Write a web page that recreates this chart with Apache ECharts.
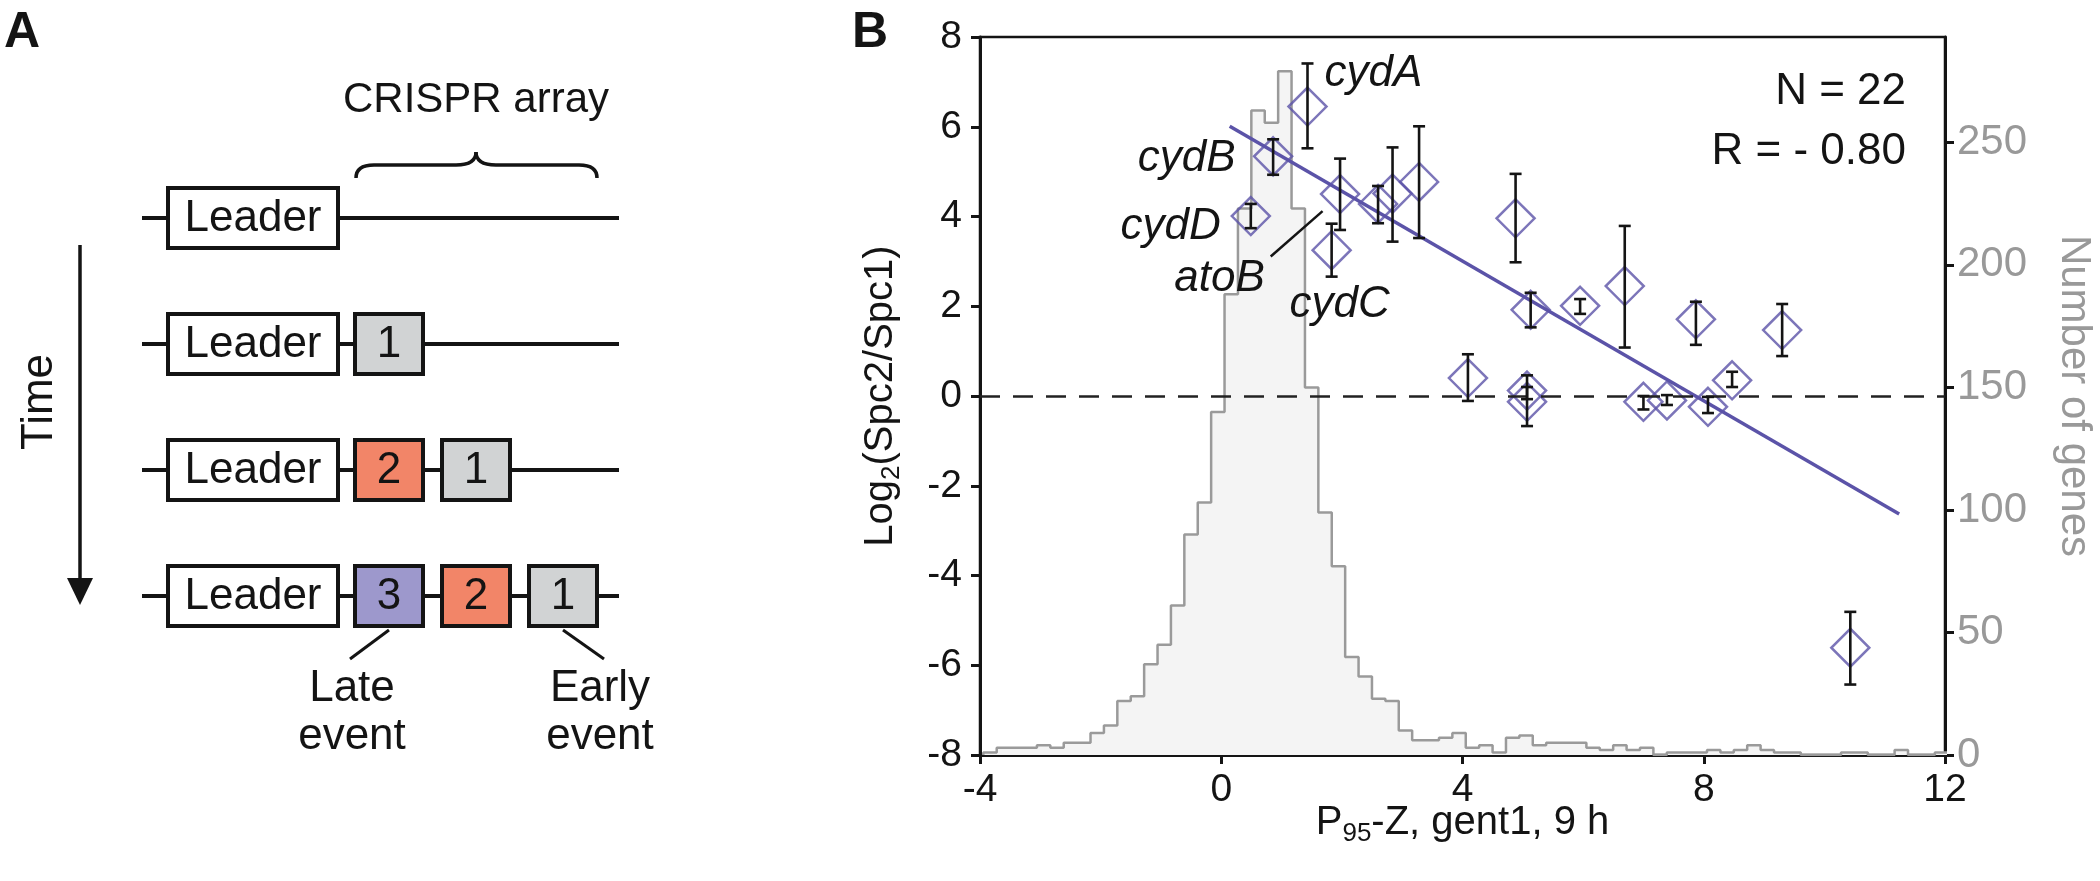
<!DOCTYPE html>
<html><head><meta charset="utf-8">
<script src="https://cdn.jsdelivr.net/npm/echarts@6/dist/echarts.min.js"></script>
<style>html,body{margin:0;padding:0;background:#fff}#c{width:2100px;height:881px}</style>
</head><body><div id="c"></div>
<script>
// ---------- Panel B data ----------
const pointX    = [1.43, 0.86, 0.49, 1.97, 1.83, 2.60, 2.84, 3.28, 4.88, 5.13, 5.95, 6.69, 7.87, 9.30, 4.09, 5.07, 5.07, 7.00, 7.39, 8.07, 8.47, 10.43];
const pointY    = [6.45, 5.34, 4.01, 4.50, 3.25, 4.28, 4.51, 4.77, 3.96, 1.92, 2.01, 2.45, 1.71, 1.47, 0.40, 0.12, -0.13, -0.13, -0.10, -0.24, 0.35, -5.61];
const errLow    = [5.52, 4.93, 3.74, 3.70, 2.66, 3.85, 3.44, 3.52, 2.98, 1.53, 1.83, 1.08, 1.14, 0.89, -0.11, -0.07, -0.67, -0.30, -0.20, -0.38, 0.20, -6.43];
const errHigh   = [7.41, 5.72, 4.28, 5.29, 3.84, 4.68, 5.54, 6.01, 4.95, 2.30, 2.16, 3.79, 2.10, 2.05, 0.93, 0.46, 0.20, 0.00, 0.02, -0.02, 0.54, -4.81];
const fitX = [0.14, 11.24];
const fitY = [6.01, -2.63];
const geneNames  = ['cydA', 'cydB', 'cydD', 'atoB', 'cydC'];
const geneLabelX = [1.72, 0.245, 0.0, 0.73, 1.14];
const geneLabelY = [7.16, 5.27, 3.77, 2.60, 2.03];
const geneAlign  = ['left', 'right', 'right', 'right', 'left'];
const atoBPointerX = [0.82, 1.68];
const atoBPointerY = [3.11, 4.12];
const histStart = -3.945;
const histBinWidth = 0.2222;
const histCounts = [1,3,3,3,4,3,5,5,9,12,22,24,37,45,61,90,103,140,188,223,263,258,279,223,150,99,77,40,32,23,22,10,6,6,7,9,3,4,1,7,8,4,5,5,5,3,2,4,2,3,0,1,1,1,2,1,2,4,2,1,1,0,0,0,1,1,0,0,2,0,0,1];
const xTicks = [-4, 12, 4];     // min, max, interval
const yTicks = [-8, 8, 2];
const countTicks = [0, 50, 100, 150, 200, 250];
const countMax = 293;
const statsText = ['N = 22', 'R = - 0.80'];

// ---------- Panel A content ----------
const rowSpacers = [[], ['1'], ['2', '1'], ['3', '2', '1']];
const spacerColors = {'1': '#d1d3d4', '2': '#f28568', '3': '#9d98cc'};

const FONT = "'Liberation Sans', Arial, Helvetica, sans-serif";
const PURPLE = '#5b53a8';
const INK = '#141414';

const chart = echarts.init(document.getElementById('c'), null, {renderer: 'canvas'});

// histogram outline points
const histData = [[histStart, 0]];
histCounts.forEach((c, k) => histData.push([histStart + k * histBinWidth, c]));
histData.push([histStart + histCounts.length * histBinWidth, histCounts[histCounts.length - 1]]);
histData.push([histStart + histCounts.length * histBinWidth, 0]);

const scatterData = pointX.map((x, i) => [x, pointY[i]]);
const errData = pointX.map((x, i) => [x, errLow[i], errHigh[i]]);
const labelData = geneNames.map((n, i) => ({
  value: [geneLabelX[i], geneLabelY[i]], name: n,
  label: {align: geneAlign[i]}
}));

// ---------- Panel A graphics ----------
const G = [];
const rowY = [218, 344, 470, 596];
const BOXH = 60;
rowY.forEach((y, i) => {
  G.push({type: 'line', z: 1, shape: {x1: 142, y1: y, x2: 619, y2: y}, style: {stroke: INK, lineWidth: 4}});
  G.push({type: 'rect', z: 2, shape: {x: 168, y: y - BOXH / 2, width: 170, height: BOXH}, style: {fill: '#fff', stroke: INK, lineWidth: 4}});
  G.push({type: 'text', z: 3, style: {text: 'Leader', x: 253, y: y + 1, align: 'center', verticalAlign: 'middle', fontSize: 44, fontFamily: FONT, fill: INK}});
  rowSpacers[i].forEach((s, j) => {
    const x = 355 + j * 87;
    G.push({type: 'rect', z: 2, shape: {x: x, y: y - BOXH / 2, width: 68, height: BOXH}, style: {fill: spacerColors[s], stroke: INK, lineWidth: 4}});
    G.push({type: 'text', z: 3, style: {text: s, x: x + 34, y: y + 1, align: 'center', verticalAlign: 'middle', fontSize: 44, fontFamily: FONT, fill: INK}});
  });
});
// brace + title
const braceStyle = {fill: null, stroke: INK, lineWidth: 3.5};
G.push({type: 'bezierCurve', z: 2, shape: {x1: 356, y1: 178, x2: 374, y2: 165, cpx1: 356, cpy1: 169, cpx2: 362, cpy2: 165}, style: braceStyle});
G.push({type: 'line', z: 2, shape: {x1: 374, y1: 165, x2: 456, y2: 165}, style: braceStyle});
G.push({type: 'bezierCurve', z: 2, shape: {x1: 456, y1: 165, x2: 476, y2: 152, cpx1: 470, cpy1: 165, cpx2: 476, cpy2: 160}, style: braceStyle});
G.push({type: 'bezierCurve', z: 2, shape: {x1: 476, y1: 152, x2: 496, y2: 165, cpx1: 476, cpy1: 160, cpx2: 482, cpy2: 165}, style: braceStyle});
G.push({type: 'line', z: 2, shape: {x1: 496, y1: 165, x2: 579, y2: 165}, style: braceStyle});
G.push({type: 'bezierCurve', z: 2, shape: {x1: 579, y1: 165, x2: 597, y2: 178, cpx1: 591, cpy1: 165, cpx2: 597, cpy2: 169}, style: braceStyle});
G.push({type: 'text', z: 3, style: {text: 'CRISPR array', x: 476, y: 100, align: 'center', verticalAlign: 'middle', fontSize: 42, fontFamily: FONT, fill: INK}});
// time arrow
G.push({type: 'line', z: 2, shape: {x1: 80, y1: 245, x2: 80, y2: 585}, style: {stroke: INK, lineWidth: 3.5}});
G.push({type: 'polygon', z: 2, shape: {points: [[67, 578], [93, 578], [80, 605]]}, style: {fill: INK}});
G.push({type: 'text', z: 3, rotation: Math.PI / 2, x: 40, y: 402, style: {text: 'Time', x: 0, y: 0, align: 'center', verticalAlign: 'middle', fontSize: 44, fontFamily: FONT, fill: INK}});
// connectors & event labels
G.push({type: 'line', z: 2, shape: {x1: 389, y1: 630, x2: 350, y2: 659}, style: {stroke: INK, lineWidth: 3}});
G.push({type: 'line', z: 2, shape: {x1: 563, y1: 630, x2: 604, y2: 659}, style: {stroke: INK, lineWidth: 3}});
G.push({type: 'text', z: 3, style: {text: 'Late\nevent', x: 352, y: 665, align: 'center', verticalAlign: 'top', fontSize: 44, lineHeight: 48, fontFamily: FONT, fill: INK}});
G.push({type: 'text', z: 3, style: {text: 'Early\nevent', x: 600, y: 665, align: 'center', verticalAlign: 'top', fontSize: 44, lineHeight: 48, fontFamily: FONT, fill: INK}});
// panel letters
G.push({type: 'text', z: 3, style: {text: 'A', x: 4, y: 8, align: 'left', verticalAlign: 'top', fontSize: 50, fontWeight: 'bold', fontFamily: FONT, fill: INK}});
G.push({type: 'text', z: 3, style: {text: 'B', x: 852, y: 8, align: 'left', verticalAlign: 'top', fontSize: 50, fontWeight: 'bold', fontFamily: FONT, fill: INK}});
// stats
G.push({type: 'text', z: 10, style: {text: statsText[0], x: 1906, y: 92, align: 'right', verticalAlign: 'middle', fontSize: 44, fontFamily: FONT, fill: INK}});
G.push({type: 'text', z: 10, style: {text: statsText[1], x: 1906, y: 152, align: 'right', verticalAlign: 'middle', fontSize: 44, fontFamily: FONT, fill: INK}});

const axisLineStyle = {color: INK, width: 3};

const option = {
  animation: false,
  backgroundColor: '#fff',
  textStyle: {fontFamily: FONT},
  grid: {left: 980, right: 155, top: 37, bottom: 126, containLabel: false, outerBoundsMode: 'none',
         show: true, borderColor: INK, borderWidth: 2.5, backgroundColor: 'transparent'},
  xAxis: {
    type: 'value', min: xTicks[0], max: xTicks[1], interval: xTicks[2],
    axisLine: {show: true, onZero: false, lineStyle: axisLineStyle},
    axisTick: {show: true, inside: false, length: 9, lineStyle: {width: 3, color: INK}},
    axisLabel: {fontSize: 39, color: INK, margin: 16, fontFamily: FONT},
    splitLine: {show: false},
    name: '{a|P}{s|95}{a|-Z, gent1, 9 h}', nameLocation: 'middle', nameGap: 44, nameMoveOverlap: false,
    nameTextStyle: {color: INK, fontFamily: FONT, rich: {
      a: {fontSize: 40, color: INK, fontFamily: FONT},
      s: {fontSize: 26, color: INK, fontFamily: FONT, padding: [22, 0, 0, 0]}
    }}
  },
  yAxis: [{
    type: 'value', min: yTicks[0], max: yTicks[1], interval: yTicks[2], position: 'left',
    axisLine: {show: true, onZero: false, lineStyle: axisLineStyle},
    axisTick: {show: true, inside: false, length: 9, lineStyle: {width: 3, color: INK}},
    axisLabel: {fontSize: 39, color: INK, margin: 18, fontFamily: FONT},
    splitLine: {show: false},
    name: '{a|Log}{s|2}{a|(Spc2/Spc1)}', nameLocation: 'middle', nameGap: 75,
    nameTextStyle: {color: INK, fontFamily: FONT, rich: {
      a: {fontSize: 40, color: INK, fontFamily: FONT},
      s: {fontSize: 26, color: INK, fontFamily: FONT, padding: [22, 0, 0, 0]}
    }}
  }, {
    type: 'value', min: 0, max: countMax, position: 'right',
    axisLine: {show: true, onZero: false, lineStyle: axisLineStyle},
    axisTick: {show: true, inside: false, length: 9, lineStyle: {width: 3, color: INK}, customValues: countTicks},
    axisLabel: {fontSize: 42, color: '#999999', margin: 12, fontFamily: FONT, customValues: countTicks},
    splitLine: {show: false},
    name: 'Number of genes', nameLocation: 'middle', nameGap: 108, nameRotate: -90,
    nameTextStyle: {fontSize: 42, color: '#999999', fontFamily: FONT}
  }],
  graphic: {elements: G},
  series: [
    {
      type: 'line', name: 'hist', xAxisIndex: 0, yAxisIndex: 1, step: 'end', data: histData,
      symbol: 'none', z: 1, silent: true,
      lineStyle: {color: '#9a9a9a', width: 2.5},
      areaStyle: {color: '#f4f4f4', opacity: 1}
    },
    {
      type: 'line', name: 'fit', yAxisIndex: 0, data: fitX.map((x, i) => [x, fitY[i]]),
      symbol: 'none', z: 3, lineStyle: {color: PURPLE, width: 3.5},
      markLine: {silent: true, symbol: ['none', 'none'], animation: false,
        data: [{yAxis: 0}], label: {show: false},
        lineStyle: {type: [20, 13], color: '#222', width: 2.5}}
    },
    {
      type: 'scatter', name: 'genes', yAxisIndex: 0, data: scatterData, z: 4,
      symbol: 'diamond', symbolSize: 38,
      itemStyle: {color: 'rgba(0,0,0,0)', borderColor: PURPLE, borderWidth: 2.5}
    },
    {
      type: 'custom', name: 'err', yAxisIndex: 0, data: errData, z: 5,
      encode: {x: 0, y: [1, 2]},
      renderItem: function (params, api) {
        const x = api.value(0), lo = api.value(1), hi = api.value(2);
        const pLo = api.coord([x, lo]), pHi = api.coord([x, hi]);
        const cap = 6;
        const st = {stroke: INK, lineWidth: 2.6, fill: null};
        return {type: 'group', children: [
          {type: 'line', shape: {x1: pLo[0], y1: pLo[1], x2: pHi[0], y2: pHi[1]}, style: st},
          {type: 'line', shape: {x1: pLo[0] - cap, y1: pLo[1], x2: pLo[0] + cap, y2: pLo[1]}, style: st},
          {type: 'line', shape: {x1: pHi[0] - cap, y1: pHi[1], x2: pHi[0] + cap, y2: pHi[1]}, style: st}
        ]};
      }
    },
    {
      type: 'line', name: 'pointer', yAxisIndex: 0, data: atoBPointerX.map((x, i) => [x, atoBPointerY[i]]),
      symbol: 'none', z: 6, lineStyle: {color: INK, width: 2.5}
    },
    {
      type: 'scatter', name: 'labels', yAxisIndex: 0, data: labelData, z: 7,
      symbolSize: 1, itemStyle: {color: 'rgba(0,0,0,0)', opacity: 1},
      label: {show: true, position: [0, 0], formatter: '{b}', verticalAlign: 'middle',
        fontSize: 44, fontStyle: 'italic', color: INK, opacity: 1,
        textBorderWidth: 0, textBorderColor: 'transparent', fontFamily: FONT}
    }
  ]
};
chart.setOption(option);
</script>
</body></html>
